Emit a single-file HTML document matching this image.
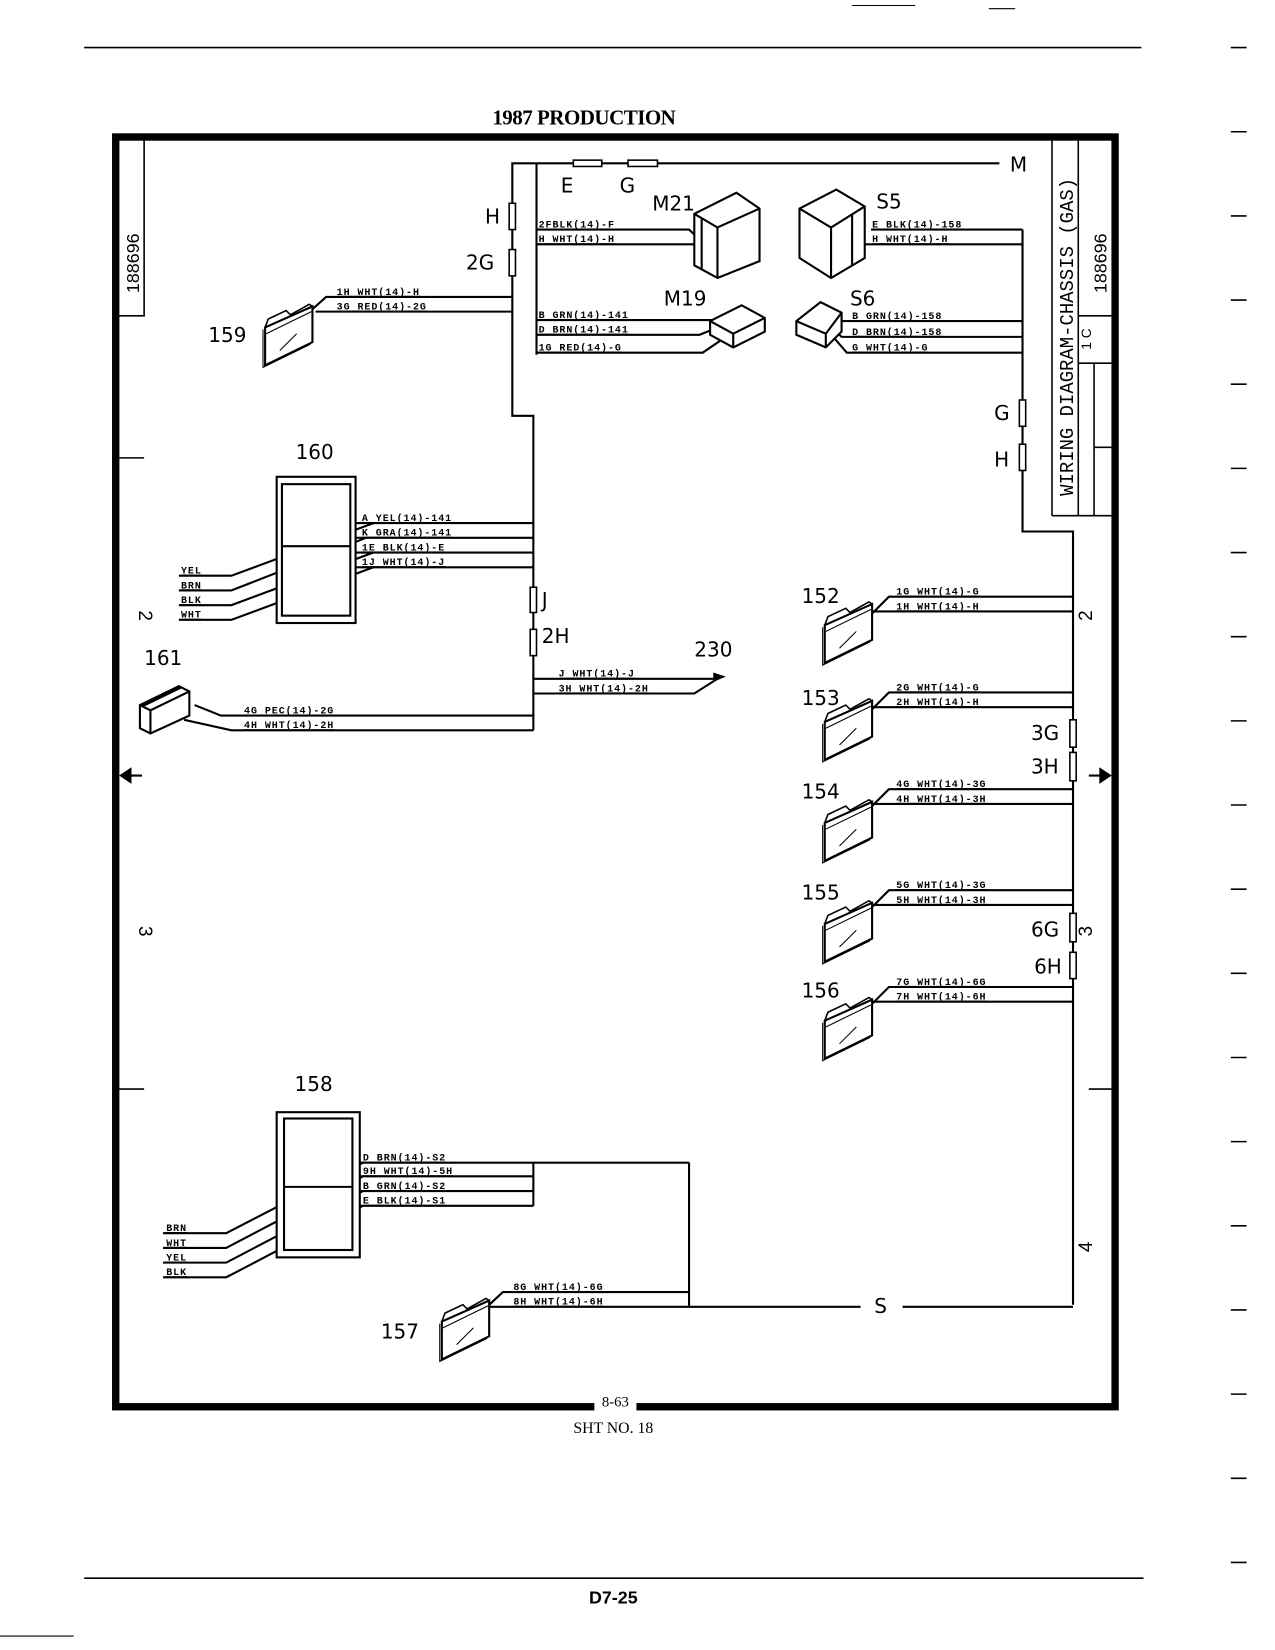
<!DOCTYPE html>
<html><head><meta charset="utf-8"><style>
html,body{margin:0;padding:0;background:#fff;}
svg{display:block;}
.lbl{font-family:"Liberation Mono",monospace;font-size:9.5px;font-weight:bold;text-decoration:underline;letter-spacing:0.9px;}
.big{font-family:"DejaVu Sans","Liberation Sans",sans-serif;font-size:19px;}
</style></head><body>
<svg width="1275" height="1650" viewBox="0 0 1212 1568" xmlns="http://www.w3.org/2000/svg">
<defs>
<g id="conn">
<path d="M0,14 L0,50 L45,28 L45,-6 Z" fill="#fff" stroke="#000" stroke-width="2"/>
<path d="M0,14 L3,6 L20,-2 L24,2 L42,-8 L45,-6" fill="none" stroke="#000" stroke-width="1.5"/>
<path d="M1,20 L44,-1" stroke="#000" stroke-width="1"/>
<path d="M14,36 L30,20" stroke="#000" stroke-width="1"/>
<path d="M-2,16 L-2,52 L43,30" fill="none" stroke="#000" stroke-width="1"/>
</g>
</defs>
<rect width="1212" height="1568" fill="#fff"/>
<g stroke="#000" fill="none">
<line x1="80" y1="45" x2="1085" y2="45" stroke-width="1.5"/>
<line x1="80" y1="1500" x2="1087" y2="1500" stroke-width="1.5"/>
<line x1="810" y1="5" x2="870" y2="5" stroke-width="1"/>
<line x1="940" y1="8" x2="965" y2="8" stroke-width="1"/>
<line x1="0" y1="1555" x2="70" y2="1555" stroke-width="1"/>
</g>
<g stroke="#000" stroke-width="1.5">
<line x1="1170" y1="45" x2="1185" y2="45"/><line x1="1170" y1="125" x2="1185" y2="125"/>
<line x1="1170" y1="205" x2="1185" y2="205"/><line x1="1170" y1="285" x2="1185" y2="285"/>
<line x1="1170" y1="365" x2="1185" y2="365"/><line x1="1170" y1="445" x2="1185" y2="445"/>
<line x1="1170" y1="525" x2="1185" y2="525"/><line x1="1170" y1="605" x2="1185" y2="605"/>
<line x1="1170" y1="685" x2="1185" y2="685"/><line x1="1170" y1="765" x2="1185" y2="765"/>
<line x1="1170" y1="845" x2="1185" y2="845"/><line x1="1170" y1="925" x2="1185" y2="925"/>
<line x1="1170" y1="1005" x2="1185" y2="1005"/><line x1="1170" y1="1085" x2="1185" y2="1085"/>
<line x1="1170" y1="1165" x2="1185" y2="1165"/><line x1="1170" y1="1245" x2="1185" y2="1245"/>
<line x1="1170" y1="1325" x2="1185" y2="1325"/><line x1="1170" y1="1405" x2="1185" y2="1405"/>
<line x1="1170" y1="1485" x2="1185" y2="1485"/>
</g>
<text x="555" y="118" text-anchor="middle" font-family="Liberation Serif,serif" font-size="20" font-weight="bold" letter-spacing="-0.5">1987 PRODUCTION</text>
<rect x="110" y="130" width="950" height="1207" fill="none" stroke="#000" stroke-width="7"/>
<rect x="565" y="1330" width="40" height="12" fill="#fff"/>
<text x="585" y="1337" text-anchor="middle" font-family="Liberation Serif,serif" font-size="14">8-63</text>
<text x="583" y="1362" text-anchor="middle" font-family="Liberation Serif,serif" font-size="15">SHT NO. 18</text>
<text x="583" y="1524" text-anchor="middle" font-family="Liberation Sans,sans-serif" font-weight="bold" font-size="17">D7-25</text>
<g stroke="#000" stroke-width="1.5" fill="none">
<polyline points="113,300 137,300 137,133"/>
<line x1="113" y1="435" x2="137" y2="435"/>
<line x1="113" y1="1035" x2="137" y2="1035"/>
<line x1="1035" y1="1035" x2="1057" y2="1035"/>
<line x1="1000" y1="133" x2="1000" y2="490"/>
<line x1="1025" y1="133" x2="1025" y2="490"/>
<line x1="1000" y1="490" x2="1057" y2="490"/>
<line x1="1025" y1="300" x2="1057" y2="300"/>
<line x1="1025" y1="345" x2="1057" y2="345"/>
<line x1="1040" y1="345" x2="1040" y2="490"/>
<line x1="1040" y1="425" x2="1057" y2="425"/>
</g>
<text transform="translate(132,250) rotate(-90)" text-anchor="middle" font-family="Liberation Sans,sans-serif" font-size="17">188696</text>
<text transform="translate(1052,250) rotate(-90)" text-anchor="middle" font-family="Liberation Sans,sans-serif" font-size="17">188696</text>
<text transform="translate(1020,320) rotate(-90)" text-anchor="middle" font-family="Liberation Mono,monospace" font-size="18">WIRING DIAGRAM-CHASSIS (GAS)</text>
<text transform="translate(1037,322) rotate(-90)" text-anchor="middle" font-family="Liberation Sans,sans-serif" font-size="13">1 C</text>
<g font-family="Liberation Sans,sans-serif" font-size="18">
<text transform="translate(132,585) rotate(90)" text-anchor="middle">2</text>
<text transform="translate(132,885) rotate(90)" text-anchor="middle">3</text>
<text transform="translate(1038,585) rotate(-90)" text-anchor="middle">2</text>
<text transform="translate(1038,885) rotate(-90)" text-anchor="middle">3</text>
<text transform="translate(1038,1185) rotate(-90)" text-anchor="middle">4</text>
</g>
<path d="M115,737 L124,731 L124,743 Z M120,737 L135,737" stroke="#000" stroke-width="2"/>
<path d="M1055,737 L1046,731 L1046,743 Z M1035,737 L1050,737" stroke="#000" stroke-width="2"/>
<g stroke="#000" stroke-width="2" fill="none">
<polyline points="950,155 487,155 487,395 507,395 507,694"/>
<line x1="510" y1="155" x2="510" y2="337"/>
<polyline points="510,218 655,218 670,232"/>
<line x1="510" y1="232" x2="690" y2="232"/>
<line x1="805" y1="232" x2="972" y2="232"/>
<line x1="828" y1="218" x2="972" y2="218"/>
<polyline points="972,218 972,505 1020,505 1020,1240"/>
<polyline points="510,304 680,304"/>
<polyline points="510,318 665,318 685,310"/>
<polyline points="510,335 668,335 690,320"/>
<polyline points="792,305 972,305"/>
<polyline points="792,312 800,320 972,320"/>
<polyline points="792,320 805,335 972,335"/>
<polyline points="290,300 310,282 487,282"/>
<line x1="300" y1="296" x2="487" y2="296"/>
<line x1="338" y1="497" x2="507" y2="497"/>
<line x1="338" y1="511" x2="507" y2="511"/>
<line x1="338" y1="525" x2="507" y2="525"/>
<line x1="338" y1="539" x2="507" y2="539"/>
<polyline points="170,547 220,547 355,497"/>
<polyline points="170,561 220,561 348,511"/>
<polyline points="170,575 220,575 355,525"/>
<polyline points="170,589 220,589 355,539"/>
<line x1="507" y1="645" x2="680" y2="645"/>
<polyline points="507,659 660,659 682,645"/>
<polyline points="185,670 210,680 507,680"/>
<polyline points="175,684 220,694 507,694"/>
<polyline points="827,585 845,567 1020,567"/>
<line x1="827" y1="581" x2="1020" y2="581"/>
<polyline points="827,676 845,658 1020,658"/>
<line x1="827" y1="672" x2="1020" y2="672"/>
<polyline points="827,768 845,750 1020,750"/>
<line x1="827" y1="764" x2="1020" y2="764"/>
<polyline points="827,864 845,846 1020,846"/>
<line x1="827" y1="860" x2="1020" y2="860"/>
<polyline points="827,956 845,938 1020,938"/>
<line x1="827" y1="952" x2="1020" y2="952"/>
<line x1="342" y1="1105" x2="655" y2="1105"/>
<line x1="342" y1="1118" x2="507" y2="1118"/>
<line x1="342" y1="1132" x2="507" y2="1132"/>
<line x1="342" y1="1146" x2="507" y2="1146"/>
<line x1="507" y1="1105" x2="507" y2="1146"/>
<polyline points="655,1105 655,1242"/>
<polyline points="155,1172 215,1172 345,1105"/>
<polyline points="155,1186 215,1186 345,1118"/>
<polyline points="155,1200 215,1200 345,1132"/>
<polyline points="155,1214 215,1214 345,1146"/>
<polyline points="463,1242 478,1228 655,1228"/>
<polyline points="463,1242 818,1242"/>
<polyline points="858,1242 1020,1242"/>
</g>
<path d="M678,639 L690,643 L678,648 Z" fill="#000"/>
<g fill="#fff" stroke="#000" stroke-width="1.5">
<rect x="545" y="152" width="27" height="6"/><rect x="597" y="152" width="28" height="6"/>
<rect x="484" y="193" width="6" height="25"/><rect x="484" y="237" width="6" height="25"/>
<rect x="969" y="380" width="6" height="25"/><rect x="969" y="422" width="6" height="25"/>
<rect x="504" y="558" width="6" height="24"/><rect x="504" y="598" width="6" height="25"/>
<rect x="1017" y="684" width="6" height="26"/><rect x="1017" y="715" width="6" height="27"/>
<rect x="1017" y="868" width="6" height="27"/><rect x="1017" y="905" width="6" height="25"/>
</g>
<g fill="#fff" stroke="#000" stroke-width="2">
<path d="M660,203 L700,183 L722,198 L722,248 L682,264 L660,252 Z"/>
<path d="M660,203 L682,216 L722,198 M682,216 L682,264 M667,207 L667,256" fill="none"/>
<path d="M760,198 L795,180 L822,196 L822,245 L790,264 L760,245 Z"/>
<path d="M760,198 L790,216 L822,196 M790,216 L790,264 M810,203 L810,252" fill="none"/>
<path d="M675,305 L705,290 L727,302 L727,315 L697,330 L675,318 Z"/>
<path d="M675,305 L697,317 L727,302 M697,317 L697,330" fill="none"/>
<path d="M757,305 L780,287 L800,297 L800,315 L785,330 L757,318 Z"/>
<path d="M757,305 L785,317 L800,297 M785,317 L785,330" fill="none"/>
<rect x="263" y="453" width="75" height="139"/>
<rect x="268" y="460" width="65" height="125"/>
<line x1="268" y1="519" x2="333" y2="519"/>
<rect x="263" y="1057" width="79" height="138"/>
<rect x="270" y="1063" width="65" height="125"/>
<line x1="270" y1="1128" x2="335" y2="1128"/>
<path d="M133,670 L170,652 L180,657 L180,680 L143,697 L133,692 Z"/>
<path d="M133,670 L143,675 L180,657 M143,675 L143,697" fill="none"/>
</g>
<path d="M133,670 L170,652 L173,654 L136,672 Z" fill="#000"/>
<use href="#conn" x="252" y="297"/>
<use href="#conn" x="784" y="580"/>
<use href="#conn" x="784" y="672"/>
<use href="#conn" x="784" y="768"/>
<use href="#conn" x="784" y="864"/>
<use href="#conn" x="784" y="956"/>
<use href="#conn" x="420" y="1242"/>
<g class="big">
<text x="960" y="163">M</text>
<text x="533" y="183">E</text><text x="589" y="183">G</text>
<text x="620" y="200">M21</text><text x="833" y="198">S5</text>
<text x="631" y="290">M19</text><text x="808" y="290">S6</text>
<text x="461" y="212">H</text><text x="443" y="256">2G</text>
<text x="945" y="399">G</text><text x="945" y="443">H</text>
<text x="198" y="325">159</text>
<text x="281" y="436">160</text>
<text x="515" y="577">J</text><text x="515" y="611">2H</text>
<text x="660" y="624">230</text>
<text x="137" y="632">161</text>
<text x="762" y="573">152</text><text x="762" y="670">153</text>
<text x="762" y="759">154</text><text x="762" y="855">155</text>
<text x="762" y="948">156</text>
<text x="980" y="703">3G</text><text x="980" y="735">3H</text>
<text x="980" y="890">6G</text><text x="983" y="925">6H</text>
<text x="280" y="1037">158</text>
<text x="362" y="1272">157</text>
<text x="831" y="1248">S</text>
</g>
<g class="lbl">
<text x="512" y="216">2FBLK(14)-F</text><text x="512" y="230">H WHT(14)-H</text>
<text x="512" y="302">B GRN(14)-141</text><text x="512" y="316">D BRN(14)-141</text><text x="512" y="333">1G RED(14)-G</text>
<text x="829" y="216">E BLK(14)-158</text><text x="829" y="230">H WHT(14)-H</text>
<text x="810" y="303">B GRN(14)-158</text><text x="810" y="318">D BRN(14)-158</text><text x="810" y="333">G WHT(14)-G</text>
<text x="320" y="280">1H WHT(14)-H</text><text x="320" y="294">3G RED(14)-2G</text>
<text x="344" y="495">A YEL(14)-141</text><text x="344" y="509">K GRA(14)-141</text>
<text x="344" y="523">1E BLK(14)-E</text><text x="344" y="537">1J WHT(14)-J</text>
<text x="172" y="545">YEL</text><text x="172" y="559">BRN</text><text x="172" y="573">BLK</text><text x="172" y="587">WHT</text>
<text x="531" y="643">J WHT(14)-J</text><text x="531" y="657">3H WHT(14)-2H</text>
<text x="232" y="678">4G PEC(14)-2G</text><text x="232" y="692">4H WHT(14)-2H</text>
<text x="852" y="565">1G WHT(14)-G</text><text x="852" y="579">1H WHT(14)-H</text>
<text x="852" y="656">2G WHT(14)-G</text><text x="852" y="670">2H WHT(14)-H</text>
<text x="852" y="748">4G WHT(14)-3G</text><text x="852" y="762">4H WHT(14)-3H</text>
<text x="852" y="844">5G WHT(14)-3G</text><text x="852" y="858">5H WHT(14)-3H</text>
<text x="852" y="936">7G WHT(14)-6G</text><text x="852" y="950">7H WHT(14)-6H</text>
<text x="345" y="1103">D BRN(14)-S2</text><text x="345" y="1116">9H WHT(14)-5H</text>
<text x="345" y="1130">B GRN(14)-S2</text><text x="345" y="1144">E BLK(14)-S1</text>
<text x="158" y="1170">BRN</text><text x="158" y="1184">WHT</text><text x="158" y="1198">YEL</text><text x="158" y="1212">BLK</text>
<text x="488" y="1226">8G WHT(14)-6G</text><text x="488" y="1240">8H WHT(14)-6H</text>
</g>
</svg>
</body></html>
